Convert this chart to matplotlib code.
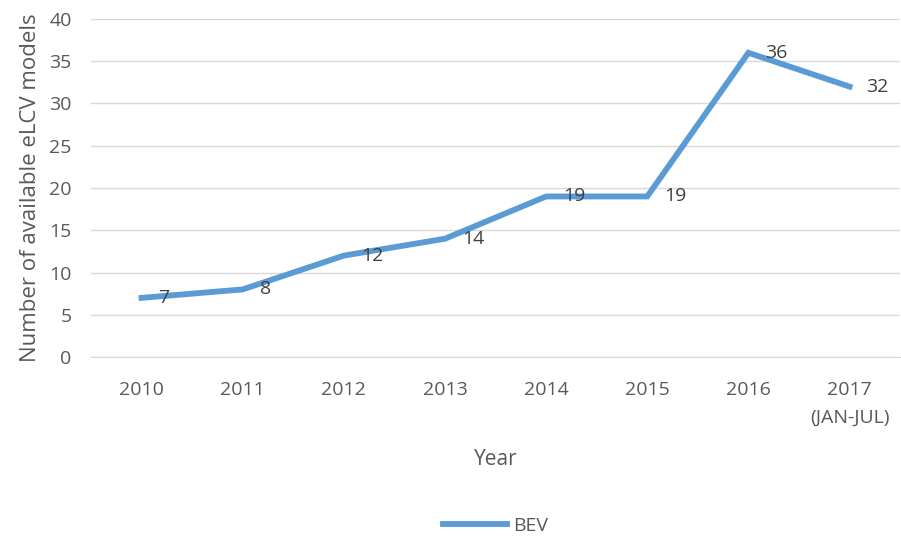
import matplotlib.pyplot as plt

years = ["2010", "2011", "2012", "2013", "2014", "2015", "2016", "2017\n(JAN-JUL)"]
bev = [7, 8, 12, 14, 19, 19, 36, 32]

plt.rcParams['font.family'] = ['Open Sans', 'DejaVu Sans']
gray = '#595959'

fig = plt.figure(figsize=(9.01, 5.38), dpi=100)
ax = fig.add_axes([0.101, 0.3364, 0.898, 0.6283])

x = list(range(len(years)))
ax.plot(x, bev, color='#5B9BD5', lw=4.2, solid_joinstyle='miter', label='BEV')
for xi, v in zip(x, bev):
    ax.annotate(str(v), (xi, v), xytext=(17, 0), textcoords='offset pixels',
                ha='left', va='center', fontsize=14, color='#404040')

ax.set_xlim(-0.5, len(years) - 0.5)
ax.set_ylim(0, 40)
ax.set_yticks(range(0, 41, 5))
ax.set_xticks(x)
ax.set_xticklabels(years, linespacing=1.75)
ax.tick_params(length=0, labelsize=14, labelcolor=gray, pad=17)
ax.tick_params(axis='y', pad=14)
ax.grid(axis='y', color='#D9D9D9', lw=1)
ax.set_axisbelow(True)
for s in ax.spines.values():
    s.set_visible(False)
ax.spines['bottom'].set_visible(True)
ax.spines['bottom'].set_color('#D9D9D9')

ax.set_ylabel('Number of available eLCV models', fontsize=16, color=gray, labelpad=6)
ax.set_xlabel('Year', fontsize=15, color=gray, labelpad=16)
ax.legend(loc='center', bbox_to_anchor=(0.5, -0.5), frameon=False,
          fontsize=14, labelcolor=gray, handlelength=3.3, handletextpad=0.3)

fig.savefig('out.png', dpi=100)
